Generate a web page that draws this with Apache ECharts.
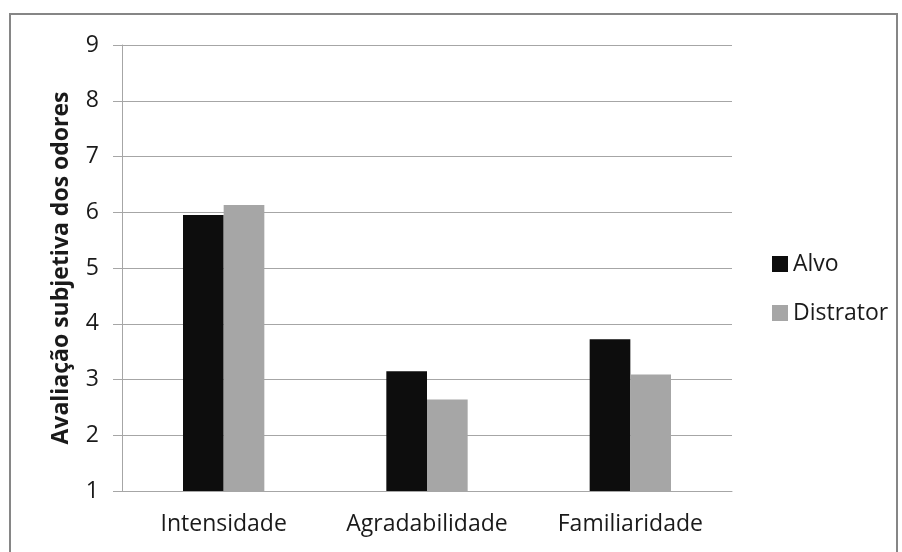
<!DOCTYPE html>
<html>
<head>
<meta charset="utf-8">
<script src="https://cdn.jsdelivr.net/npm/echarts@6/dist/echarts.min.js"></script>
<style>
  html, body { margin: 0; padding: 0; background: #fff; }
  #chart { width: 902px; height: 552px; }
</style>
</head>
<body>
<div id="chart"></div>
<script>
// Subjective odour ratings per dimension, target vs distractor
const categories = ['Intensidade', 'Agradabilidade', 'Familiaridade'];
const alvo = [5.95, 3.15, 3.72];
const distrator = [6.13, 2.64, 3.09];
const yTicks = { min: 1, max: 9, step: 1 };

const FONT = '"Open Sans", "Noto Sans", sans-serif';
const TEXT_COLOR = '#1a1a1a';
const GRID_COLOR = '#a6a6a6';

const chart = echarts.init(document.getElementById('chart'), null, { renderer: 'canvas' });
chart.setOption({
  backgroundColor: '#ffffff',
  animation: false,
  graphic: [{
    type: 'rect',
    shape: { x: 10, y: 14, width: 887, height: 560 },
    style: { fill: 'none', stroke: '#868686', lineWidth: 2 },
    silent: true
  }],
  grid: { left: 122, right: 170, top: 45, bottom: 61, containLabel: false },
  legend: {
    orient: 'vertical',
    left: 772,
    top: 252,
    padding: 0,
    itemWidth: 16,
    itemHeight: 16,
    itemGap: 25,
    icon: 'rect',
    textStyle: { fontFamily: FONT, fontSize: 23, lineHeight: 24, color: TEXT_COLOR },
    data: ['Alvo', 'Distrator']
  },
  xAxis: {
    type: 'category',
    data: categories,
    axisLine: { lineStyle: { color: GRID_COLOR, width: 1 } },
    axisTick: { show: false },
    axisLabel: {
      interval: 0,
      hideOverlap: false,
      fontFamily: FONT,
      fontSize: 23,
      color: TEXT_COLOR,
      margin: 22
    }
  },
  yAxis: {
    type: 'value',
    min: yTicks.min,
    max: yTicks.max,
    interval: yTicks.step,
    name: 'Avaliação subjetiva dos odores',
    nameLocation: 'middle',
    nameGap: 49,
    nameRotate: 90,
    nameTextStyle: { fontFamily: FONT, fontSize: 23, fontWeight: 'bold', color: TEXT_COLOR },
    axisLine: { show: true, lineStyle: { color: GRID_COLOR, width: 1 } },
    axisTick: { show: true, length: 9, lineStyle: { color: GRID_COLOR } },
    axisLabel: { fontFamily: FONT, fontSize: 23, color: TEXT_COLOR, margin: 23 },
    splitLine: { show: true, lineStyle: { color: GRID_COLOR, width: 1 } }
  },
  series: [
    {
      name: 'Alvo',
      type: 'bar',
      data: alvo,
      barWidth: '20%',
      barGap: '0%',
      itemStyle: { color: '#0d0d0d' }
    },
    {
      name: 'Distrator',
      type: 'bar',
      data: distrator,
      barWidth: '20%',
      barGap: '0%',
      itemStyle: { color: '#a6a6a6' }
    }
  ]
});
</script>
</body>
</html>
